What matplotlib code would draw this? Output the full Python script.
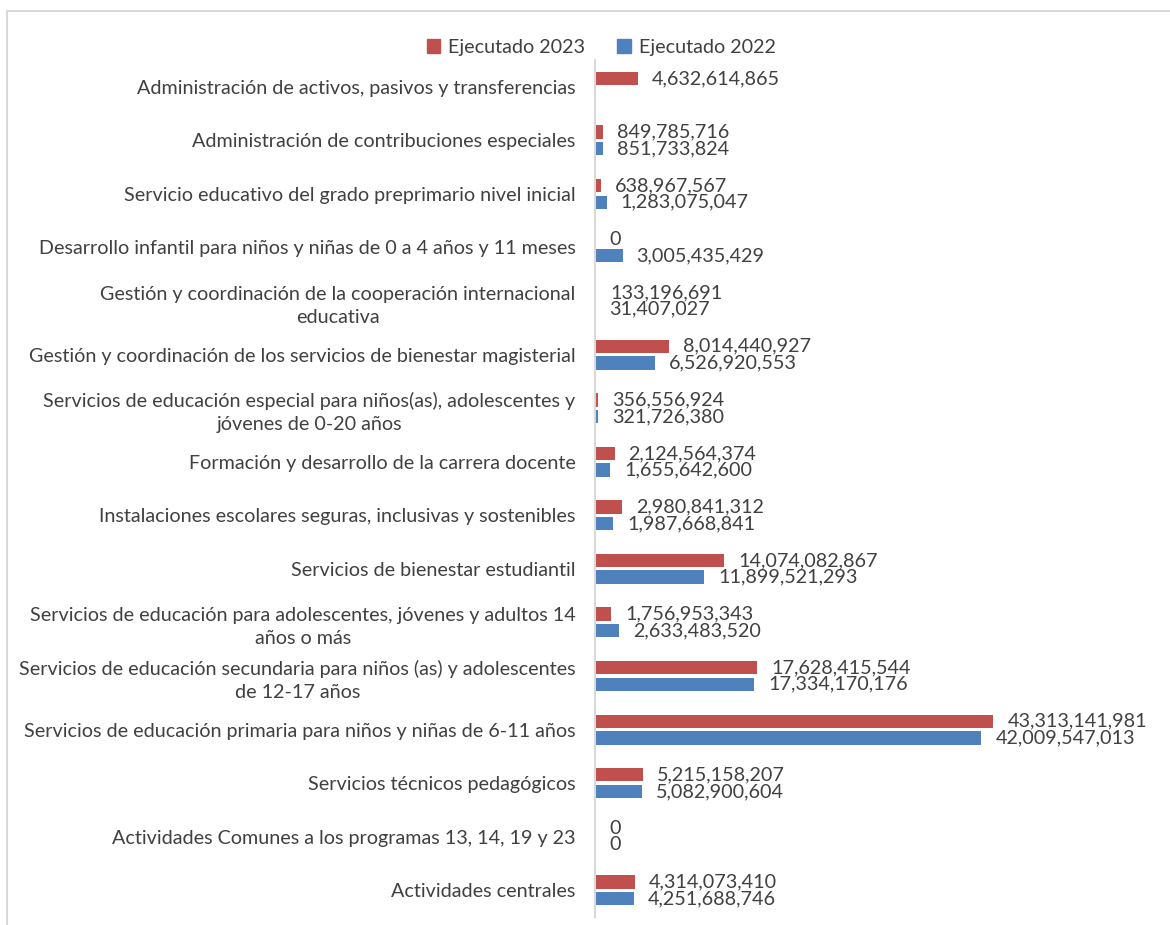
import matplotlib
matplotlib.use("Agg")
import matplotlib.pyplot as plt
from matplotlib.patches import Rectangle, Patch

plt.rcParams["font.family"] = ["Lato", "DejaVu Sans"]

categorias = [
    "Administración de activos, pasivos y transferencias",
    "Administración de contribuciones especiales",
    "Servicio educativo del grado preprimario nivel inicial",
    "Desarrollo infantil para niños y niñas de 0 a 4 años y 11 meses",
    "Gestión y coordinación de la cooperación internacional\neducativa",
    "Gestión y coordinación de los servicios de bienestar magisterial",
    "Servicios de educación especial para niños(as), adolescentes y\njóvenes de 0-20 años",
    "Formación y desarrollo de la carrera docente",
    "Instalaciones escolares seguras, inclusivas y sostenibles",
    "Servicios de bienestar estudiantil",
    "Servicios de educación para adolescentes, jóvenes y adultos 14\naños o más",
    "Servicios de educación secundaria para niños (as) y adolescentes\nde 12-17 años",
    "Servicios de educación primaria para niños y niñas de 6-11 años",
    "Servicios técnicos pedagógicos",
    "Actividades Comunes a los programas 13, 14, 19 y 23",
    "Actividades centrales",
]
ejecutado_2023 = [4632614865, 849785716, 638967567, 0, 133196691, 8014440927,
                  356556924, 2124564374, 2980841312, 14074082867, 1756953343,
                  17628415544, 43313141981, 5215158207, 0, 4314073410]
ejecutado_2022 = [None, 851733824, 1283075047, 3005435429, 31407027, 6526920553,
                  321726380, 1655642600, 1987668841, 11899521293, 2633483520,
                  17334170176, 42009547013, 5082900604, 0, 4251688746]

rojo = "#C0504D"
azul = "#4F81BD"
gris = "#404040"
fs = 14.2

fig = plt.figure(figsize=(11.7, 9.25), dpi=100)
ax = fig.add_axes([595 / 1170, 1 - 917 / 925, 460 / 1170, 857 / 925])

off = 0.155
h = 0.25
for i, (v23, v22) in enumerate(zip(ejecutado_2023, ejecutado_2022)):
    if v23 is not None:
        ax.barh(i - off, v23, height=h, color=rojo)
        ax.annotate(f"{v23:,}", (v23, i - off), xytext=(10, 0),
                    textcoords="offset points", va="center", ha="left",
                    fontsize=fs, color=gris)
    if v22 is not None:
        ax.barh(i + off, v22, height=h, color=azul)
        ax.annotate(f"{v22:,}", (v22, i + off), xytext=(10, 0),
                    textcoords="offset points", va="center", ha="left",
                    fontsize=fs, color=gris)

ax.set_xlim(0, 50e9)
ax.set_ylim(len(categorias) - 0.5, -0.5)
ax.set_yticks(range(len(categorias)))
ax.set_yticklabels(categorias, fontsize=fs, color=gris, multialignment="center",
                   linespacing=1.45)
ax.tick_params(axis="y", length=0, pad=14)
ax.set_xticks([])
for s in ["top", "right", "bottom"]:
    ax.spines[s].set_visible(False)
ax.spines["left"].set_color("#d9d9d9")
ax.spines["left"].set_linewidth(1.5)

handles = [Patch(color=rojo, label="Ejecutado 2023"),
           Patch(color=azul, label="Ejecutado 2022")]
fig.legend(handles=handles, loc="center", bbox_to_anchor=(601 / 1170, 1 - 47 / 925),
           ncol=2, frameon=False, fontsize=fs, handlelength=0.7, handleheight=0.7,
           handletextpad=0.4, columnspacing=1.6, labelcolor=gris)

fig.add_artist(Rectangle((7 / 1170, -0.05), 1.1, 1 - 11 / 925 + 0.05,
                         transform=fig.transFigure, fill=False,
                         edgecolor="#d9d9d9", linewidth=1.5))

fig.savefig("out.png", dpi=100)
